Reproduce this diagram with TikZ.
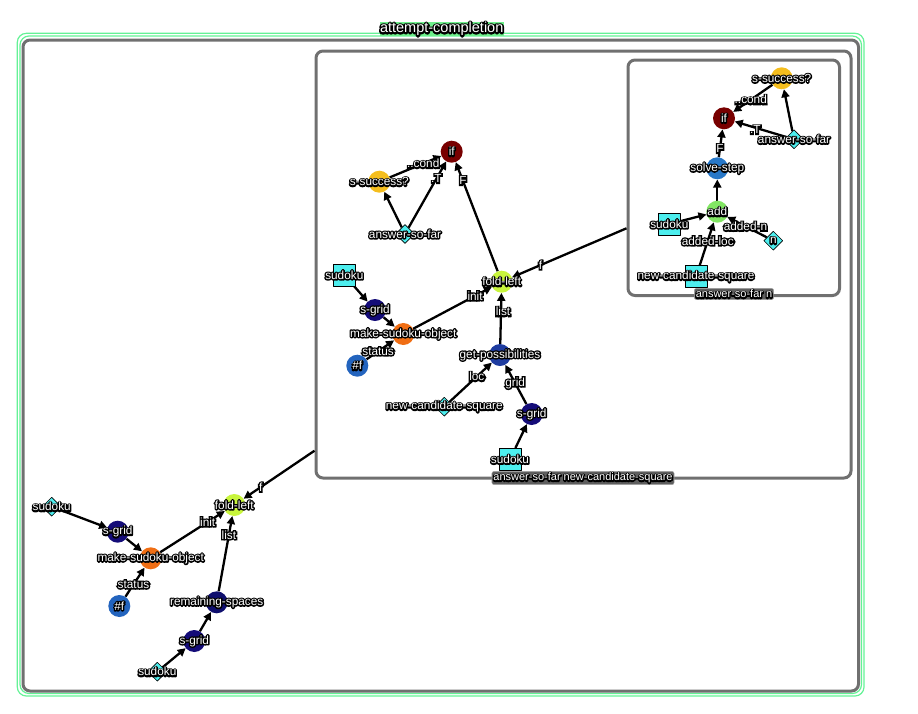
\documentclass[tikz,border=0pt]{standalone}
\usepackage{fontspec}
\setmainfont{Liberation Sans}
\newfontfamily\halofont[FakeBold=24]{Liberation Sans}
\usetikzlibrary{shapes.geometric,arrows.meta}
\newcommand\halo[1]{\makebox[0pt][l]{\halofont\color{black}#1}{\color{white}#1}}
\newcommand\ctext[1]{\makebox[0pt]{\halo{#1}}}
\definecolor{cyanv}{RGB}{77,238,238}
\definecolor{goldv}{RGB}{245,190,30}
\definecolor{ifred}{RGB}{120,0,0}
\definecolor{stepblue}{RGB}{40,120,200}
\definecolor{addgreen}{RGB}{130,230,100}
\definecolor{foldgreen}{RGB}{200,245,60}
\definecolor{navy}{RGB}{20,12,120}
\definecolor{orangev}{RGB}{240,110,20}
\definecolor{fblue}{RGB}{35,100,190}
\definecolor{gpblue}{RGB}{30,60,160}
\definecolor{remnavy}{RGB}{15,15,110}
\definecolor{framegray}{RGB}{112,112,112}
\definecolor{mint}{RGB}{100,242,150}
\definecolor{titlegreen}{RGB}{110,240,140}
\definecolor{labgray}{RGB}{95,95,95}
\pgfdeclarelayer{bg}
\pgfdeclarelayer{edges}
\pgfsetlayers{bg,edges,main}
\tikzset{
  edge/.style={line width=2.3pt, draw=black, -{Triangle[length=8pt,width=8pt]}},
  vcirc/.style={circle, minimum size=22pt, inner sep=0pt, fill=#1, font=\fontsize{11.8}{13}\selectfont},
  vdiam/.style={diamond, aspect=1, minimum size=19pt, inner sep=0pt, fill=cyanv, draw=black, line width=0.6pt, font=\fontsize{11.8}{13}\selectfont},
  vsq/.style={rectangle, minimum width=22pt, minimum height=22pt, inner sep=0pt, fill=cyanv, draw=black, line width=0.6pt, font=\fontsize{11.8}{13}\selectfont},
  elab/.style={inner sep=0pt, font=\fontsize{11.8}{13}\selectfont},
  frame/.style={draw=framegray, line width=3pt, rounded corners=7pt},
  mintline/.style={draw=mint, line width=1.2pt, rounded corners=9pt},
  clab/.style={fill=labgray, draw=gray!70, line width=0.4pt, rounded corners=2pt, inner sep=1.5pt, font=\fontsize{11}{12}\selectfont},
}
\begin{document}
\begin{tikzpicture}[x=1pt,y=-1pt,line join=round]
\useasboundingbox (0,0) rectangle (918,713);
% frames
\begin{pgfonlayer}{bg}
\draw[mintline] (17.3,33.3) rectangle (864,696);
\draw[mintline] (20,36) rectangle (861.5,693.5);
\draw[frame] (23,40) rectangle (858.5,691);
\draw[frame] (316,51) rectangle (851,478);
\draw[frame] (628,60) rectangle (839.5,295.5);
\end{pgfonlayer}
\node[fill=titlegreen, inner sep=0.5pt, font=\fontsize{14.5}{16}\selectfont] (title) at (441.7,29) {\halo{attempt-completion}};
\node[clab] (cl1) at (583,478) {\halo{answer-so-far new-candidate-square}};
\node[clab] (cl2) at (734,294) {\halo{answer-so-far n}};
\coordinate (mb) at (314.5,450.7);
\coordinate (ib) at (626.5,228.3);
% bottom-left
\node[vdiam] (sud1) at (51.7,506.7) {\ctext{sudoku}};
\node[vcirc=navy] (sg1) at (117.7,531.7) {\ctext{s-grid}};
\node[vcirc=orangev] (mso1) at (150.7,558.3) {\ctext{make-sudoku-object}};
\node[vcirc=fblue] (f1) at (119.3,606) {\ctext{\#f}};
\node[vcirc=foldgreen] (fold1) at (234.3,505) {\ctext{fold-left}};
\node[vcirc=remnavy] (rem) at (216.7,602.3) {\ctext{remaining-spaces}};
\node[vcirc=navy] (sg2) at (194.3,641) {\ctext{s-grid}};
\node[vdiam] (sud2) at (157.3,671.7) {\ctext{sudoku}};
% middle
\node[vcirc=ifred] (if2) at (451.7,151.7) {\ctext{if}};
\node[vcirc=goldv] (ss2) at (379.3,181.7) {\ctext{s-success?}};
\node[vdiam] (asf2) at (405,234) {\ctext{answer-so-far}};
\node[vcirc=foldgreen] (fold2) at (501.7,281.7) {\ctext{fold-left}};
\node[vsq] (sud3) at (344.3,275) {\ctext{sudoku}};
\node[vcirc=navy] (sg3) at (375,310) {\ctext{s-grid}};
\node[vcirc=orangev] (mso2) at (403.3,334) {\ctext{make-sudoku-object}};
\node[vcirc=fblue] (f2) at (357.3,365.7) {\ctext{\#f}};
\node[vcirc=gpblue] (gp) at (500,355) {\ctext{get-possibilities}};
\node[vdiam] (ncs2) at (444.3,406.7) {\ctext{new-candidate-square}};
\node[vcirc=navy] (sg4) at (531.7,414) {\ctext{s-grid}};
\node[vsq] (sud4) at (510,459.3) {\ctext{sudoku}};
% inner
\node[vcirc=goldv] (ss3) at (781.7,78.3) {\ctext{s-success?}};
\node[vcirc=ifred] (if3) at (724,118.3) {\ctext{if}};
\node[vdiam] (asf3) at (794,139.3) {\ctext{answer-so-far}};
\node[vcirc=stepblue] (ssp) at (717.3,168.3) {\ctext{solve-step}};
\node[vcirc=addgreen] (add) at (717.3,211.7) {\ctext{add}};
\node[vsq] (sud5) at (669.3,224) {\ctext{sudoku}};
\node[vdiam] (nn) at (773.3,240.7) {\ctext{n}};
\node[vsq] (ncs3) at (696,276.7) {\ctext{new-candidate-square}};
\begin{pgfonlayer}{edges}
% bottom-left
\draw[edge] (sud1) -- (sg1);
\draw[edge] (sg1) -- (mso1);
\draw[edge] (f1) -- (mso1) node[elab,pos=0.42] {\halo{status}};
\draw[edge] (mso1) -- (fold1) node[elab,pos=0.735] {\halo{init}};
\draw[edge] (rem) -- (fold1) node[elab,pos=0.75] {\halo{list}};
\draw[edge] (sg2) -- (rem);
\draw[edge] (sud2) -- (sg2);
\draw[edge] (mb) -- (fold1) node[elab,pos=0.757] {\halo{f}};
% middle
\draw[edge] (ss2) -- (if2) node[elab,pos=0.65] {\halo{..cond}};
\draw[edge] (asf2) -- (if2) node[elab,pos=0.74] {\halo{.T}};
\draw[edge] (asf2) -- (ss2);
\draw[edge] (fold2) -- (if2) node[elab,pos=0.83] {\halo{F}};
\draw[edge] (sud3) -- (sg3);
\draw[edge] (sg3) -- (mso2);
\draw[edge] (f2) -- (mso2) node[elab,pos=0.42] {\halo{status}};
\draw[edge] (mso2) -- (fold2) node[elab,pos=0.787] {\halo{init}};
\draw[edge] (gp) -- (fold2) node[elab,pos=0.63,xshift=2pt] {\halo{list}};
\draw[edge] (ncs2) -- (gp) node[elab,pos=0.647] {\halo{loc}};
\draw[edge] (sg4) -- (gp) node[elab,pos=0.534] {\halo{grid}};
\draw[edge] (sud4) -- (sg4);
\draw[edge] (ib) -- (fold2) node[elab,pos=0.75] {\halo{f}};
% inner
\draw[edge] (ss3) -- (if3) node[elab,pos=0.553] {\halo{..cond}};
\draw[edge] (asf3) -- (if3) node[elab,pos=0.6,yshift=-2pt] {\halo{.T}};
\draw[edge] (asf3) -- (ss3);
\draw[edge] (ssp) -- (if3) node[elab,pos=0.31] {\halo{F}};
\draw[edge] (add) -- (ssp);
\draw[edge] (sud5) -- (add);
\draw[edge] (nn) -- (add) node[elab,pos=0.54] {\halo{added-n}};
\draw[edge] (ncs3) -- (add) node[elab,pos=0.57] {\halo{added-loc}};
\end{pgfonlayer}
\end{tikzpicture}
\end{document}
